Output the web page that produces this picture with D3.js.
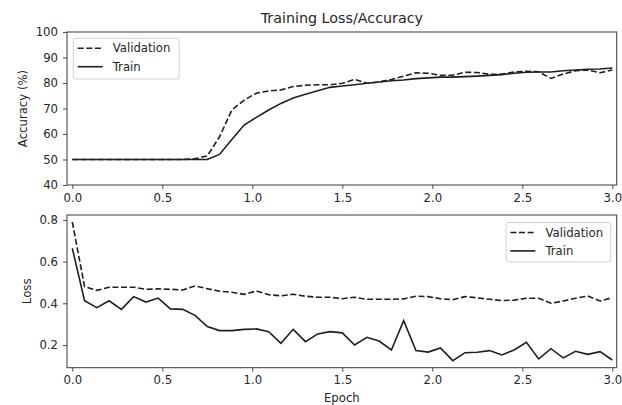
<!DOCTYPE html>
<html><head><meta charset="utf-8">
<script src="https://cdn.jsdelivr.net/npm/d3@7"></script>
<style>
html,body{margin:0;padding:0;background:#fff;}
svg{display:block;font-family:"DejaVu Sans",sans-serif;}
</style></head>
<body><svg id="c" width="622" height="405"></svg>
<script>
const epochCount = 45;
const epochs = d3.range(epochCount).map(i => i * 3 / 44);
const xTicks = [0.0, 0.5, 1.0, 1.5, 2.0, 2.5, 3.0];
const accTicks = [40, 50, 60, 70, 80, 90, 100];
const lossTicks = [0.2, 0.4, 0.6, 0.8];
const seriesNames = ["Validation", "Train"];

const accVal = [50,50,50,50,50,50,50,50,50,50,50.3,51.4,58.9,69.4,73.3,76.0,76.9,77.3,78.6,79.1,79.3,79.3,79.9,81.4,79.9,80.4,81.4,82.7,84.0,83.8,83.0,83.1,84.2,84.1,83.4,83.5,84.3,84.6,84.4,81.8,83.5,84.8,85.1,84.0,85.1];
const accTrain = [50,50,50,50,50,50,50,50,50,50,50,50,52.0,57.8,63.5,66.5,69.4,72.0,74.1,75.6,77.0,78.3,78.8,79.3,79.9,80.4,80.9,81.2,81.7,82.0,82.3,82.3,82.5,82.7,83.0,83.3,83.8,84.2,84.3,84.3,84.8,85.1,85.4,85.5,85.9];
const lossVal = [0.79,0.48,0.462,0.477,0.477,0.477,0.467,0.469,0.467,0.464,0.483,0.470,0.458,0.453,0.443,0.459,0.441,0.436,0.443,0.434,0.429,0.429,0.422,0.429,0.419,0.419,0.419,0.421,0.434,0.432,0.422,0.417,0.432,0.426,0.419,0.413,0.415,0.424,0.424,0.400,0.411,0.424,0.435,0.411,0.427];
const lossTrain = [0.664,0.412,0.379,0.412,0.371,0.432,0.406,0.425,0.373,0.371,0.342,0.288,0.269,0.269,0.275,0.277,0.264,0.208,0.275,0.216,0.253,0.264,0.258,0.200,0.237,0.219,0.176,0.317,0.173,0.166,0.186,0.125,0.163,0.165,0.173,0.152,0.176,0.213,0.133,0.182,0.138,0.170,0.155,0.168,0.128];

const svg = d3.select("#c");
const L = 67, R = 616.7;
const x = d3.scaleLinear().domain([-0.0294, 3.0244]).range([L, R]);
const lineColor = "#1f1f1f";
const spineColor = "#3a3a3a";
const textColor = "#262626";
const fs = "11.7px";

function panel(top, bottom, yDomain, ticks, fmt, val, train, ylabel, ylabelX, legendPos, showXLabel) {
  const y = d3.scaleLinear().domain(yDomain).range([bottom, top]);
  const g = svg.append("g");
  const line = d3.line().x((d, i) => x(epochs[i])).y(d => y(d));
  g.append("path").datum(val).attr("d", line).attr("fill", "none")
    .attr("stroke", lineColor).attr("stroke-width", 1.6).attr("stroke-dasharray", "6,2.6");
  g.append("path").datum(train).attr("d", line).attr("fill", "none")
    .attr("stroke", lineColor).attr("stroke-width", 1.6);
  const xa = d3.axisBottom(x).tickValues(xTicks).tickFormat(d3.format(".1f")).tickSize(4).tickPadding(4.3);
  const ya = d3.axisLeft(y).tickValues(ticks).tickFormat(fmt).tickSize(4).tickPadding(5);
  const gx = g.append("g").attr("transform", `translate(0,${bottom})`).call(xa);
  const gy = g.append("g").attr("transform", `translate(${L},0)`).call(ya);
  [gx, gy].forEach(a => {
    a.select(".domain").remove();
    a.selectAll(".tick line").attr("stroke", spineColor).attr("stroke-width", 0.9);
    a.selectAll(".tick text").attr("fill", textColor).style("font-size", fs).style("font-family", "DejaVu Sans");
  });
  g.append("rect").attr("x", L).attr("y", top).attr("width", R - L).attr("height", bottom - top)
    .attr("fill", "none").attr("stroke", spineColor).attr("stroke-width", 1);
  g.append("text").attr("transform", `translate(${ylabelX},${(top + bottom) / 2}) rotate(-90)`)
    .attr("text-anchor", "middle").attr("fill", textColor).style("font-size", fs).text(ylabel);
  if (showXLabel) {
    g.append("text").attr("x", (L + R) / 2).attr("y", bottom + 34).attr("text-anchor", "middle")
      .attr("fill", textColor).style("font-size", fs).text("Epoch");
  }
  const lg = g.append("g").attr("transform", `translate(${legendPos[0]},${legendPos[1]})`);
  lg.append("rect").attr("width", legendPos[2]).attr("height", legendPos[3]).attr("rx", 2.5)
    .attr("fill", "#fff").attr("fill-opacity", 0.8).attr("stroke", "#d0d0d0").attr("stroke-width", 1);
  seriesNames.forEach((n, i) => {
    const yy = 10 + i * 18.4;
    lg.append("line").attr("x1", 4.4).attr("x2", 29.4).attr("y1", yy).attr("y2", yy)
      .attr("stroke", lineColor).attr("stroke-width", 1.6)
      .attr("stroke-dasharray", i === 0 ? "6,2.6" : null);
    lg.append("text").attr("x", 39.4).attr("y", yy + 4.2).attr("fill", textColor)
      .style("font-size", fs).text(n);
  });
}

panel(32, 185, [40, 100], accTicks, d3.format("d"), accVal, accTrain, "Accuracy (%)", 26.5, [73.3, 38.3, 105.9, 40.7], false);
panel(215, 367.7, [0.091, 0.8235], lossTicks, d3.format(".1f"), lossVal, lossTrain, "Loss", 30.5, [506, 222.5, 104.7, 39.5], true);

svg.append("text").attr("x", (L + R) / 2).attr("y", 23).attr("text-anchor", "middle")
  .attr("fill", textColor).style("font-size", "14.3px").text("Training Loss/Accuracy");
</script></body></html>
